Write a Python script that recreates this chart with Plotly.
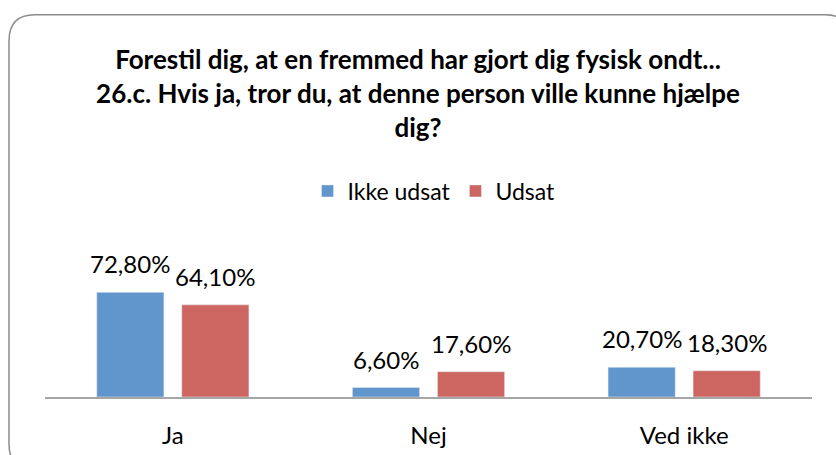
import plotly.graph_objects as go

# Data
categories = ["Ja", "Nej", "Ved ikke"]
ikke_udsat = [72.8, 6.6, 20.7]
udsat = [64.1, 17.6, 18.3]
ikke_labels = ["72,80%", "6,60%", "20,70%"]
udsat_labels = ["64,10%", "17,60%", "18,30%"]

W, H = 836, 455
ML, MR, MB = 45, 24, 58
PW = W - ML - MR
PH = 138
MT = H - MB - PH

FONT = "Lato"
BARGAP = 0.335

# width of one bar slot inside a group, in pixels
SLOT = PW / len(categories) * (1 - BARGAP) / 2


def px(x):
    return (x - ML) / PW


def py(y):
    return (H - MB - y) / PH


def rounded_box(x0, y0, x1, y1, r):
    pts = [
        f"M {px(x0 + r)},{py(y0)}",
        f"L {px(x1 - r)},{py(y0)}",
        f"Q {px(x1)},{py(y0)} {px(x1)},{py(y0 + r)}",
        f"L {px(x1)},{py(y1 - r)}",
        f"Q {px(x1)},{py(y1)} {px(x1 - r)},{py(y1)}",
        f"L {px(x0 + r)},{py(y1)}",
        f"Q {px(x0)},{py(y1)} {px(x0)},{py(y1 - r)}",
        f"L {px(x0)},{py(y0 + r)}",
        f"Q {px(x0)},{py(y0)} {px(x0 + r)},{py(y0)}",
        "Z",
    ]
    return " ".join(pts)


fig = go.Figure()
fig.add_trace(go.Bar(x=categories, y=ikke_udsat, name="Ikke udsat",
                     marker_color="#6096cb"))
fig.add_trace(go.Bar(x=categories, y=udsat, name="Udsat",
                     marker_color="#cd6661"))

# data labels, placed a little higher than plotly's own outside text
for vals, labels, shift in [(ikke_udsat, ikke_labels, -SLOT / 2),
                            (udsat, udsat_labels, SLOT / 2)]:
    for cat, v, lab in zip(categories, vals, labels):
        fig.add_annotation(x=cat, y=v, text=lab, showarrow=False,
                           xshift=shift, yshift=12, yanchor="bottom",
                           font=dict(size=24, color="black", family=FONT))

# rounded chart frame (runs off the right and bottom edges)
fig.add_shape(type="path", xref="paper", yref="paper",
              path=rounded_box(9, 14.7, 851, 470, 26),
              line=dict(color="#8c8c8c", width=1.5), layer="below")

fig.update_layout(
    width=W, height=H,
    margin=dict(l=ML, r=MR, t=MT, b=MB, autoexpand=False),
    paper_bgcolor="white", plot_bgcolor="white",
    font=dict(family=FONT, size=24, color="black"),
    title=dict(text="<b>Forestil dig, at en fremmed har gjort dig fysisk ondt...<br>"
                    "26.c. Hvis ja, tror du, at denne person ville kunne hjælpe<br>dig?</b>",
               x=0.5, xanchor="center", y=1 - 69 / H, yanchor="top",
               font=dict(size=26, family=FONT)),
    barmode="group", bargap=BARGAP, bargroupgap=0.21,
    showlegend=True,
    legend=dict(orientation="h", xref="container", yref="container",
                x=434 / W, xanchor="center", y=1 - 191 / H, yanchor="middle",
                font=dict(size=23), itemwidth=30, traceorder="normal"),
    xaxis=dict(showline=True, linecolor="#a6a6a6", linewidth=1.5, ticks="",
               showgrid=False, ticklabelstandoff=16),
    yaxis=dict(range=[0, 96], visible=False, showgrid=False),
)

# drop the default page margin so the figure fills the window exactly
fig.write_html("out.html", config={"displayModeBar": False},
               post_script="document.body.style.margin='0';document.body.style.overflow='hidden';")
